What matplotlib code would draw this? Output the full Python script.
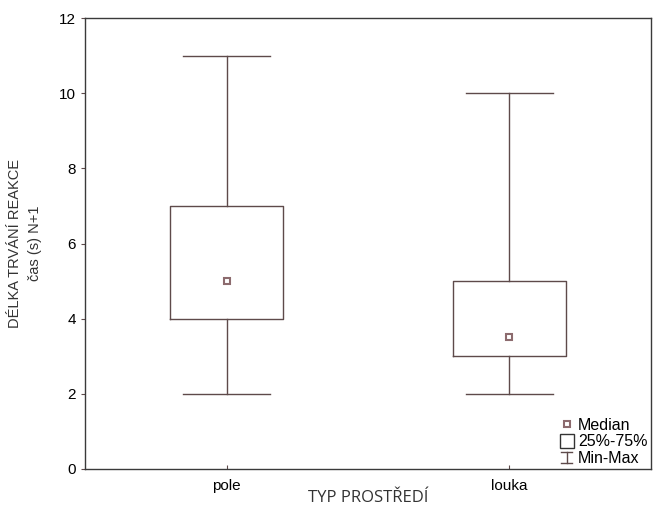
import matplotlib
matplotlib.use('Agg')
import matplotlib.pyplot as plt
from matplotlib.lines import Line2D
from matplotlib.patches import Rectangle
from matplotlib.legend_handler import HandlerBase

# hodnoty pro jednotlive typy prostredi
kategorie = ['pole', 'louka']
minima = [2, 2]
q1 = [4, 3]
mediany = [5, 3.5]
q3 = [7, 5]
maxima = [11, 10]

barva = '#5e4a4a'
barva_med = '#8c6b6e'

plt.rcParams['font.family'] = ['Liberation Sans', 'DejaVu Sans']

fig = plt.figure(figsize=(6.6, 5.09), dpi=100)
ax = fig.add_axes([0.129, 0.0786, 0.857, 0.886])

stats = []
for i, k in enumerate(kategorie):
    stats.append({'label': k, 'whislo': minima[i], 'q1': q1[i], 'med': mediany[i],
                  'q3': q3[i], 'whishi': maxima[i], 'fliers': []})

pozice = list(range(len(kategorie)))
ax.bxp(stats, positions=pozice, widths=0.4, showfliers=False,
       boxprops=dict(color=barva, linewidth=1.0),
       whiskerprops=dict(color=barva, linewidth=1.0),
       capprops=dict(color=barva, linewidth=1.0),
       medianprops=dict(linewidth=0),
       capwidths=0.31)
ax.plot(pozice, mediany, 's', ms=5, mfc='white', mec=barva_med, mew=1.5, ls='none')

ax.set_xlim(-0.5, 1.5)
ax.set_ylim(0, 12)
ax.set_yticks([0, 2, 4, 6, 8, 10, 12])
ax.set_xticks(pozice)
ax.set_xticklabels(kategorie)
ax.tick_params(axis='both', labelsize=11, length=3, color=barva, width=0.8)
ax.tick_params(axis='x', direction='in', pad=7)
for s in ax.spines.values():
    s.set_color('#3a3a3a')
    s.set_linewidth(1.0)

ax.set_xlabel('TYP PROSTŘEDÍ', fontsize=12, family=['Open Sans', 'DejaVu Sans'],
              color='#333333', labelpad=-2)
ax.set_ylabel('DÉLKA TRVÁNÍ REAKCE\nčas (s) N+1', fontsize=10.5, color='#333333',
              labelpad=12, linespacing=1.6)


class MinMaxHandler(HandlerBase):
    def create_artists(self, legend, orig, xd, yd, w, h, fontsize, trans):
        cx = xd + w / 2
        a = Line2D([cx, cx], [yd, yd + h], color=barva, lw=1.0, transform=trans)
        b = Line2D([cx - 4, cx + 4], [yd, yd], color=barva, lw=1.0, transform=trans)
        c = Line2D([cx - 4, cx + 4], [yd + h, yd + h], color=barva, lw=1.0, transform=trans)
        return [a, b, c]


class BoxHandler(HandlerBase):
    def create_artists(self, legend, orig, xd, yd, w, h, fontsize, trans):
        r = Rectangle((xd + w / 2 - 5, yd - 1), 10, h + 2, fill=False,
                      ec='#333333', lw=1.0, transform=trans)
        return [r]


h_med = Line2D([], [], marker='s', ms=4.5, mfc='white', mec=barva_med, mew=1.5, ls='none')
h_box = Rectangle((0, 0), 1, 1)
h_mm = Line2D([], [])
leg = ax.legend([h_med, h_box, h_mm], ['Median', '25%-75%', 'Min-Max'],
                handler_map={h_box: BoxHandler(), h_mm: MinMaxHandler()},
                loc='lower right', frameon=False, fontsize=11.5, handlelength=0.8,
                handletextpad=0.3, labelspacing=0.1, borderaxespad=0.0, borderpad=0.2)

fig.savefig('out.png', dpi=100, facecolor='white')
